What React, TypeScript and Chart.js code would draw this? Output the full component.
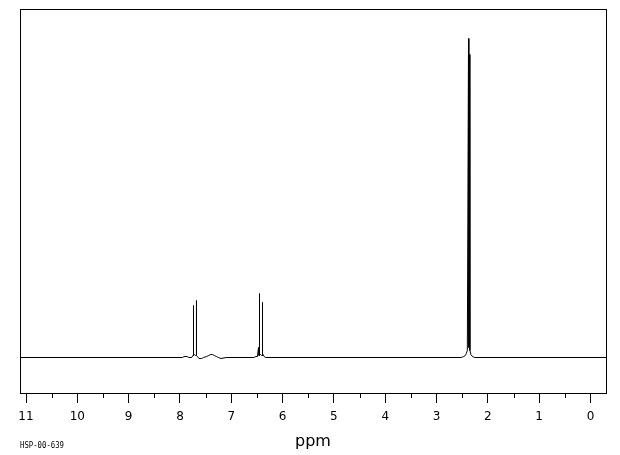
import React, { useEffect, useRef } from "react";
import { Chart, registerables } from "chart.js";

Chart.register(...registerables);

// Chemical shift (ppm) and intensity (arbitrary units) of the spectrum trace
const PPM = [
  11.3, 7.95, 7.92, 7.86, 7.83, 7.77, 7.75, 7.736, 7.736, 7.736, 7.72, 7.70, 7.678, 7.678, 7.678, 7.66, 7.63, 7.58, 7.54,
  7.48, 7.44, 7.40, 7.37, 7.33, 7.29, 7.25, 7.20, 7.10,
  6.56, 6.52, 6.49, 6.47, 6.46, 6.45, 6.45, 6.45, 6.43, 6.41, 6.3915, 6.3915, 6.3915, 6.38, 6.36, 6.33,
  2.52, 2.47, 2.44, 2.42, 2.40, 2.377, 2.37, 2.358, 2.35, 2.33, 2.30, 2.26, -0.4,
];
const INTENSITY = [
  0, 0, 1, 1, 0, 0, 2, 2, 52, 2, 3, 2, 2, 57, 2, 1, -1, -1, 0,
  1, 2, 3, 3, 2, 1, 0, -1, 0,
  0, 1, 1, 10, 2, 2, 64, 2, 3, 2, 2, 55, 2, 3, 1, 0,
  0, 1, 2, 4, 7, 319, 10, 303, 7, 3, 1, 0, 0,
];
const MAJOR_TICKS = [0, 1, 2, 3, 4, 5, 6, 7, 8, 9, 10, 11];
const MINOR_TICKS = [0.5, 1.5, 2.5, 3.5, 4.5, 5.5, 6.5, 7.5, 8.5, 9.5, 10.5];
const X_MIN = -0.302;
const X_MAX = 11.117;
const Y_MIN = -35.5;
const Y_MAX = 348.5;
const AXIS_TITLE = "ppm";
const CODE_LABEL = "HSP-00-639";

const framePlugin = {
  id: "frame",
  afterDraw(chart: any) {
    const { ctx, chartArea } = chart;
    const xs = chart.scales.x;
    ctx.save();
    ctx.strokeStyle = "#000";
    ctx.lineWidth = 1;
    ctx.strokeRect(
      Math.round(chartArea.left) + 0.5,
      Math.round(chartArea.top) + 0.5,
      Math.round(chartArea.right - chartArea.left),
      Math.round(chartArea.bottom - chartArea.top)
    );
    ctx.beginPath();
    const b = Math.round(chartArea.bottom);
    for (const v of MINOR_TICKS) {
      const px = Math.round(xs.getPixelForValue(v)) + 0.5;
      ctx.moveTo(px, b);
      ctx.lineTo(px, b + 5);
    }
    ctx.stroke();
    ctx.fillStyle = "#000";
    ctx.font = "9px 'DejaVu Sans Mono'";
    ctx.textBaseline = "alphabetic";
    ctx.textAlign = "left";
    ctx.fillText(CODE_LABEL, 20, 447.5, 44);
    ctx.restore();
  },
};

export default function App() {
  const ref = useRef<HTMLCanvasElement | null>(null);
  useEffect(() => {
    document.body.style.margin = "0";
    const points = PPM.map((x, i) => ({ x, y: INTENSITY[i] }));
    const chart = new Chart(ref.current as HTMLCanvasElement, {
      type: "scatter",
      data: {
        datasets: [
          {
            data: points,
            showLine: true,
            borderColor: "#000",
            borderWidth: 1,
            pointRadius: 0,
            tension: 0,
          },
        ],
      },
      options: {
        animation: false,
        responsive: false,
        layout: { padding: { left: 20, right: 14, top: 9, bottom: 0 } },
        plugins: { legend: { display: false }, tooltip: { enabled: false } },
        scales: {
          x: {
            type: "linear",
            reverse: true,
            min: X_MIN,
            max: X_MAX,
            afterBuildTicks: (scale: any) => {
              scale.ticks = MAJOR_TICKS.map((v) => ({ value: v }));
            },
            afterFit: (scale: any) => {
              scale.height = 62;
            },
            grid: {
              display: true,
              drawOnChartArea: false,
              drawTicks: true,
              tickLength: 10,
              tickColor: "#000",
              tickWidth: 1,
            },
            border: { display: false },
            ticks: {
              color: "#000",
              font: { family: "'DejaVu Sans'", size: 12 },
              padding: 7,
              maxRotation: 0,
              autoSkip: false,
              callback: (v: any) => String(v),
            },
            title: {
              display: true,
              text: AXIS_TITLE,
              color: "#000",
              font: { family: "'DejaVu Sans'", size: 16 },
              padding: { top: 0, bottom: 4 },
            },
          },
          y: {
            display: false,
            min: Y_MIN,
            max: Y_MAX,
          },
        },
      },
      plugins: [framePlugin],
    });
    return () => chart.destroy();
  }, []);
  return (
    <div style={{ position: "fixed", left: 0, top: 0, width: 620, height: 455, background: "#fff" }}>
      <canvas ref={ref} width={620} height={455} style={{ display: "block" }} />
    </div>
  );
}
